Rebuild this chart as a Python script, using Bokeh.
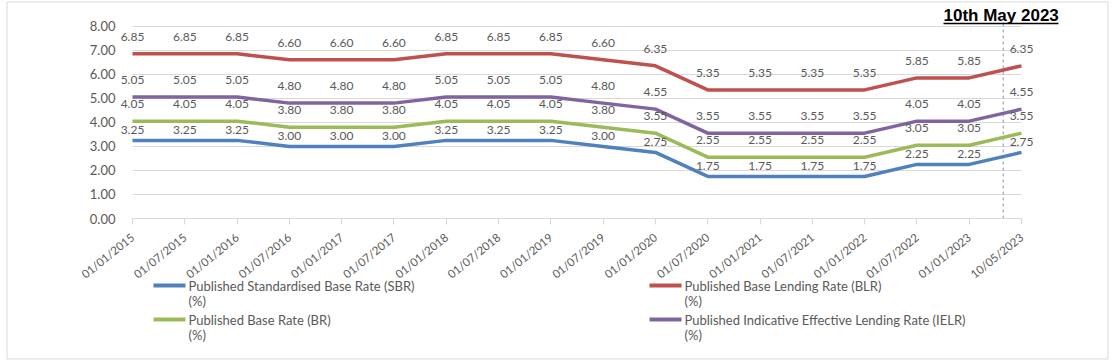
from bokeh.plotting import figure
from bokeh.models import Range1d, FixedTicker, NumeralTickFormatter
from bokeh.core.properties import value
from bokeh.embed import file_html
from bokeh.resources import INLINE

# ---------------- data ----------------
dates = ["01/01/2015", "01/07/2015", "01/01/2016", "01/07/2016", "01/01/2017", "01/07/2017",
         "01/01/2018", "01/07/2018", "01/01/2019", "01/07/2019", "01/01/2020", "01/07/2020",
         "01/01/2021", "01/07/2021", "01/01/2022", "01/07/2022", "01/01/2023", "10/05/2023"]
blr = [6.85, 6.85, 6.85, 6.60, 6.60, 6.60, 6.85, 6.85, 6.85, 6.60, 6.35, 5.35, 5.35, 5.35, 5.35, 5.85, 5.85, 6.35]
ielr = [5.05, 5.05, 5.05, 4.80, 4.80, 4.80, 5.05, 5.05, 5.05, 4.80, 4.55, 3.55, 3.55, 3.55, 3.55, 4.05, 4.05, 4.55]
br = [4.05, 4.05, 4.05, 3.80, 3.80, 3.80, 4.05, 4.05, 4.05, 3.80, 3.55, 2.55, 2.55, 2.55, 2.55, 3.05, 3.05, 3.55]
sbr = [3.25, 3.25, 3.25, 3.00, 3.00, 3.00, 3.25, 3.25, 3.25, 3.00, 2.75, 1.75, 1.75, 1.75, 1.75, 2.25, 2.25, 2.75]
y_ticks = [0, 1, 2, 3, 4, 5, 6, 7, 8]
marker_pos = 16.65          # "10th May 2023" marker between the last two categories
marker_text = "10th May 2023"
legend_names = ["Published Standardised Base Rate (SBR)", "Published Base Rate (BR)",
                "Published Base Lending Rate (BLR)", "Published Indicative Effective Lending Rate (IELR)"]

# ---------------- layout (page pixel geometry) ----------------
W, H = 1112, 362            # canvas, placed at page (0, 0)
ORG = 0
n = len(dates)
X0_PAGE, X1_PAGE = 132.0, 1021.0   # first / last category
Y0_PAGE, Y8_PAGE = 218.0, 25.7     # value 0 / value 8
XU = (X1_PAGE - X0_PAGE) / (n - 1)
YU = (Y0_PAGE - Y8_PAGE) / 8.0

def px2x(page_x):
    return (page_x - X0_PAGE) / XU

def px2y(page_y):
    return (Y0_PAGE - page_y) / YU

FONT = "Lato"
TXT = "#595959"

p = figure(width=W, height=H,
           x_range=Range1d(px2x(ORG), px2x(ORG + W)), y_range=Range1d(px2y(ORG + H), px2y(ORG)),
           min_border=0, min_border_left=0, min_border_right=0, min_border_top=0, min_border_bottom=0,
           output_backend="svg", toolbar_location=None)
p.outline_line_color = None
p.background_fill_color = "white"
p.border_fill_color = "white"

# axes (drawn at fixed data locations inside the frame)
p.yaxis.fixed_location = 0
p.yaxis.bounds = (0, 8)
p.yaxis.ticker = FixedTicker(ticks=y_ticks)
p.yaxis.formatter = NumeralTickFormatter(format="0.00")
p.yaxis.axis_line_color = None
p.yaxis.major_tick_line_color = None
p.yaxis.minor_tick_line_color = None
p.yaxis.major_tick_out = 0
p.yaxis.major_tick_in = 0
p.yaxis.major_label_standoff = 17
p.yaxis.major_label_text_font = FONT
p.yaxis.major_label_text_font_size = "13px"
p.yaxis.major_label_text_color = TXT

p.xaxis.fixed_location = 0
p.xaxis.bounds = (0, n - 1)
p.xaxis.ticker = FixedTicker(ticks=list(range(n)))
p.xaxis.major_label_overrides = {i: d for i, d in enumerate(dates)}
p.xaxis.axis_line_color = "#d9d9d9"
p.xaxis.major_tick_line_color = "#d9d9d9"
p.xaxis.minor_tick_line_color = None
p.xaxis.major_tick_out = 6
p.xaxis.major_tick_in = 0
p.xaxis.major_label_standoff = 11
p.xaxis.major_label_orientation = 0.68
p.xaxis.major_label_text_font = FONT
p.xaxis.major_label_text_font_size = "11.5px"
p.xaxis.major_label_text_color = TXT

p.xgrid.grid_line_color = None
p.ygrid.ticker = FixedTicker(ticks=y_ticks)
p.ygrid.bounds = (0, 8)
p.ygrid.grid_line_color = "#d9d9d9"
try:
    p.ygrid.cross_bounds = (0, n - 1)
except AttributeError:
    p.ygrid.grid_line_color = None
    p.segment(x0=[0] * len(y_ticks), x1=[n - 1] * len(y_ticks), y0=y_ticks, y1=y_ticks,
              line_color="#d9d9d9", line_width=1)

# marker line
p.segment(x0=[marker_pos], x1=[marker_pos], y0=[0], y1=[px2y(23)], line_color="#8496b0",
          line_dash="3 3", line_width=1)

xs = list(range(n))
series = [(sbr, "#4f81bd", -10), (br, "#9bbb59", -17), (blr, "#c0504d", -17), (ielr, "#8064a2", -17)]
for vals, col, off in series:
    p.line(xs, vals, line_width=3.5, line_color=col, line_join="round")
for vals, col, off in series:
    p.text(xs, vals, text=["%.2f" % v for v in vals], text_align="center", text_baseline="middle",
           y_offset=off, text_font=value(FONT), text_font_size="12px", text_color=TXT)

# marker title, underlined
p.text([px2x(943)], [px2y(15)], text=[marker_text], text_font=value("Liberation Sans"),
       text_font_style="bold", text_font_size="17px", text_color="black",
       text_baseline="middle", text_align="left")
p.segment(x0=[px2x(943)], x1=[px2x(1058)], y0=[px2y(23)], y1=[px2y(23)], line_color="black", line_width=1.5)

# legend (manual, two columns)
leg_cols = ["#4f81bd", "#9bbb59", "#c0504d", "#8064a2"]
leg_pos = [(153, 285), (153, 319), (649, 285), (649, 319)]
for name, col, (lx, ly) in zip(legend_names, leg_cols, leg_pos):
    p.segment(x0=[px2x(lx)], x1=[px2x(lx + 32)], y0=[px2y(ly)], y1=[px2y(ly)], line_color=col, line_width=4)
    p.text([px2x(lx + 35)] * 2, [px2y(ly), px2y(ly + 15)], text=[name, "(%)"], text_font=value(FONT),
           text_font_size="13px", text_color=TXT, text_baseline="middle", text_align="left")

# outer frame
p.quad(left=[px2x(6.5)], right=[px2x(1107.5)], bottom=[px2y(358.5)], top=[px2y(1.5)],
       fill_alpha=0, line_color="#d9d9d9", line_width=1)

open("out.html", "w").write(file_html(p, INLINE))
